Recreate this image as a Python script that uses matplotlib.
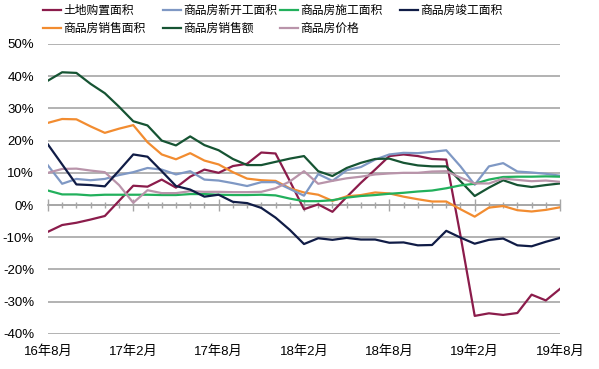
import numpy as np
import matplotlib.pyplot as plt
from matplotlib.ticker import MultipleLocator

plt.rcParams['font.family'] = ['Liberation Sans', 'Noto Sans CJK SC']

# monthly, 2016-08 .. 2019-08 (37 points), YoY %
months = ['16年8月', '17年2月', '17年8月', '18年2月', '18年8月', '19年2月', '19年8月']

land = [-8.3, -6.2, -5.5, -4.5, -3.4, 1.3, 6.0, 5.7, 7.9, 5.4, 8.8, 11.0, 10.0,
        12.1, 12.8, 16.3, 16.0, 7.5, -1.3, 0.2, -2.1, 2.5, 6.9, 11.0, 15.2, 15.7,
        15.2, 14.3, 14.1, -9.5, -34.4, -33.6, -34.1, -33.5, -27.8, -29.6, -26.0]
new_start = [12.3, 6.6, 8.1, 7.7, 8.1, 9.3, 10.2, 11.5, 11.0, 9.5, 10.5, 7.9, 7.6,
             6.8, 5.9, 7.1, 7.1, 5.0, 2.9, 9.6, 7.5, 10.8, 11.8, 14.1, 15.7, 16.2,
             16.1, 16.5, 17.0, 12.0, 6.3, 12.0, 13.0, 10.4, 10.1, 9.7, 9.1]
under_constr = [4.5, 3.3, 3.3, 3.0, 3.2, 3.2, 3.2, 3.2, 3.1, 3.1, 3.4, 3.4, 3.2,
                3.1, 3.1, 3.2, 3.0, 2.0, 1.2, 1.2, 1.5, 2.3, 2.8, 3.1, 3.5, 3.8,
                4.2, 4.5, 5.2, 6.1, 6.6, 7.9, 8.7, 8.8, 8.8, 8.9, 8.8]
completed = [18.8, 12.6, 6.4, 6.2, 5.8, 10.7, 15.7, 15.0, 10.5, 5.9, 4.8, 2.6, 3.2,
             1.0, 0.6, -0.9, -3.9, -7.7, -12.1, -10.3, -10.8, -10.2, -10.7, -10.7,
             -11.7, -11.6, -12.5, -12.4, -8.0, -10.1, -12.0, -10.8, -10.4, -12.5,
             -12.8, -11.4, -10.2]
sales_area = [25.5, 26.7, 26.6, 24.4, 22.4, 23.7, 24.8, 19.5, 15.7, 14.2, 16.1,
              13.8, 12.6, 10.2, 8.2, 7.7, 7.5, 5.2, 3.9, 3.2, 1.3, 2.7, 3.1, 3.9,
              3.6, 2.6, 1.8, 1.1, 1.1, -1.3, -3.6, -0.8, -0.3, -1.6, -2.0, -1.5, -0.7]
sales_amount = [38.6, 41.2, 41.0, 37.6, 34.7, 30.5, 26.0, 24.7, 20.0, 18.5, 21.3,
                18.6, 17.0, 14.3, 12.4, 12.4, 13.4, 14.4, 15.2, 10.5, 9.0, 11.5,
                13.1, 14.3, 14.4, 13.1, 12.3, 12.0, 12.0, 7.4, 2.8, 5.4, 7.7, 6.2,
                5.6, 6.2, 6.7]
price = [10.0, 11.2, 11.3, 10.7, 10.2, 6.2, 0.7, 4.6, 3.7, 3.7, 4.3, 4.1, 4.1,
         4.0, 4.0, 4.1, 5.2, 7.3, 10.5, 6.6, 7.5, 8.3, 8.8, 9.5, 9.8, 10.0, 10.0,
         10.4, 10.5, 8.5, 6.7, 6.7, 8.2, 7.8, 7.4, 7.6, 7.2]

series = [
    ('土地购置面积', land, '#8B1C4B'),
    ('商品房销售面积', sales_area, '#F28C30'),
    ('商品房新开工面积', new_start, '#7F98C4'),
    ('商品房销售额', sales_amount, '#165433'),
    ('商品房施工面积', under_constr, '#22B05C'),
    ('商品房价格', price, '#B994AA'),
    ('商品房竣工面积', completed, '#101C46'),
]

x = np.arange(len(land))

fig = plt.figure(figsize=(5.99, 3.69), dpi=100)
ax = fig.add_axes([0.080, 0.095, 0.855, 0.786])

for yv in range(-40, 51, 10):
    ax.axhline(yv, color='#A6A6A6', lw=1.2, zorder=1)

for name, vals, col in series:
    ax.plot(x, vals, color=col, lw=1.6, label=name, zorder=3)

ax.set_xlim(0, 36)
ax.set_ylim(-40, 50)
ax.set_yticks(range(-40, 51, 10))
ax.set_yticklabels([f'{v}%' for v in range(-40, 51, 10)], fontsize=9.5)
ax.tick_params(axis='y', length=0, pad=10)

for s in ['left', 'right', 'top']:
    ax.spines[s].set_visible(False)
ax.spines['bottom'].set_position(('data', 0))
ax.spines['bottom'].set_color('#A6A6A6')
ax.spines['bottom'].set_linewidth(1.2)
ax.xaxis.set_major_locator(MultipleLocator(6))
ax.xaxis.set_minor_locator(MultipleLocator(1))
ax.tick_params(axis='x', which='major', direction='inout', length=8,
               color='#A6A6A6', width=1.0, labelbottom=False)
ax.tick_params(axis='x', which='minor', direction='inout', length=4,
               color='#A6A6A6', width=1.0)

sec = ax.secondary_xaxis('bottom')
sec.set_xticks(range(0, 37, 6))
sec.set_xticklabels(months, fontsize=9.5)
sec.tick_params(length=0, pad=8)
sec.spines['bottom'].set_visible(False)

# legend: four fixed columns, two rows
h, l = ax.get_legend_handles_labels()
col_x = [43, 163, 280, 400]
for j, px in enumerate(col_x):
    leg = fig.legend(h[2 * j:2 * j + 2], l[2 * j:2 * j + 2], loc='upper left',
                     bbox_to_anchor=(px / 599, 1 - 5 / 369), frameon=False,
                     fontsize=8.5, handlelength=1.5, handletextpad=0.25,
                     borderaxespad=0, borderpad=0, labelspacing=0.5)

fig.savefig('out.png', dpi=100)
